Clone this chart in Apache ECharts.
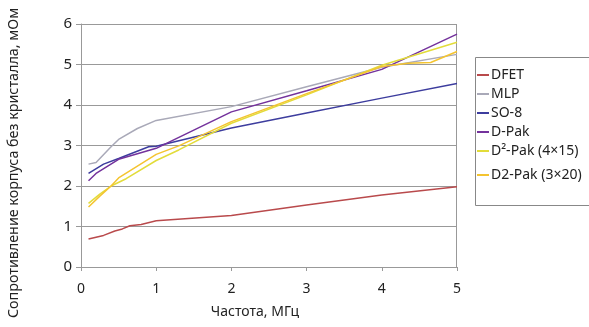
<!DOCTYPE html>
<html><head><meta charset="utf-8">
<script src="https://cdn.jsdelivr.net/npm/echarts@6/dist/echarts.min.js"></script>
<style>html,body{margin:0;padding:0;background:#fff}#c{width:589px;height:327px}</style>
</head><body><div id="c"></div>
<script>
var seriesNames = ['DFET', 'MLP', 'SO-8', 'D-Pak', 'D\u00B2-Pak (4\u00D715)', 'D2-Pak (3\u00D720)'];
var dfetF = [0.1, 0.3, 0.45, 0.55, 0.65, 0.8, 1.0, 2, 3, 4, 5];
var dfetV = [0.69, 0.78, 0.89, 0.94, 1.02, 1.05, 1.14, 1.27, 1.53, 1.78, 1.98];
var mlpF = [0.1, 0.2, 0.4, 0.5, 0.75, 1, 2, 3, 4, 5];
var mlpV = [2.54, 2.58, 2.97, 3.15, 3.42, 3.62, 3.96, 4.45, 4.93, 5.25];
var so8F = [0.1, 0.3, 0.5, 0.9, 1, 2, 3, 4, 5];
var so8V = [2.31, 2.54, 2.68, 2.97, 2.98, 3.43, 3.8, 4.17, 4.53];
var dpakF = [0.1, 0.2, 0.5, 1, 2, 3, 4, 5];
var dpakV = [2.13, 2.31, 2.66, 2.93, 3.83, 4.35, 4.88, 5.75];
var d2pak415F = [0.1, 0.25, 0.4, 0.6, 1, 1.3, 2, 3, 4, 5];
var d2pak415V = [1.57, 1.80, 2.0, 2.18, 2.63, 2.89, 3.55, 4.25, 4.98, 5.55];
var d2pak320F = [0.1, 0.25, 0.4, 0.5, 1, 1.3, 2, 3, 4, 4.35, 4.65, 5];
var d2pak320V = [1.48, 1.75, 2.0, 2.2, 2.78, 2.99, 3.59, 4.28, 4.95, 5.03, 5.05, 5.32];
var yTicks = [0, 1, 2, 3, 4, 5, 6];
var xTicks = [0, 1, 2, 3, 4, 5];
var colors = ['#b94a4c', '#a9a9b8', '#3d3d9e', '#74329c', '#e2dc3a', '#f4c430'];

function zip(f, v) { return f.map(function (x, i) { return [x, v[i]]; }); }
var dataSets = [zip(dfetF, dfetV), zip(mlpF, mlpV), zip(so8F, so8V), zip(dpakF, dpakV), zip(d2pak415F, d2pak415V), zip(d2pak320F, d2pak320V)];

var font = 'Noto Sans';
var chart = echarts.init(document.getElementById('c'), null, { renderer: 'canvas' });
var legendCommon = {
  orient: 'vertical', left: 477, itemWidth: 12, itemHeight: 2, icon: 'rect',
  itemGap: 5, textStyle: { fontFamily: font, fontSize: 14, color: '#222', padding: [0, 0, 0, -3] },
  padding: 0, selectedMode: false
};
chart.setOption({
  animation: false,
  color: colors,
  grid: { left: 81, right: 132, top: 24, bottom: 60, show: false },
  xAxis: {
    type: 'value', min: 0, max: 5, interval: 1,
    axisLine: { show: true, lineStyle: { color: '#999', width: 1 } },
    axisTick: { show: true, length: 4, lineStyle: { color: '#999' } },
    axisLabel: { fontFamily: font, fontSize: 14, color: '#222', margin: 15,
      formatter: function (v) { return xTicks.indexOf(v) >= 0 ? String(v) : ''; } },
    splitLine: { show: false }
  },
  yAxis: {
    type: 'value', min: 0, max: 6, interval: 1,
    axisLine: { show: true, lineStyle: { color: '#999', width: 1 } },
    axisTick: { show: true, length: 5, lineStyle: { color: '#999' } },
    axisLabel: { fontFamily: font, fontSize: 15, color: '#222', margin: 9,
      formatter: function (v) { return yTicks.indexOf(v) >= 0 ? String(v) : ''; } },
    splitLine: { show: true, lineStyle: { color: '#999', width: 1 } }
  },
  legend: [
    Object.assign({}, legendCommon, { top: 68, data: seriesNames.slice(0, 5) }),
    Object.assign({}, legendCommon, { top: 168, data: seriesNames.slice(5) })
  ],
  graphic: [
    { type: 'rect', shape: { x: 475.5, y: 57.5, width: 120, height: 148 }, style: { fill: 'none', stroke: '#888', lineWidth: 1 }, z: 0 },
    { type: 'line', shape: { x1: 456.5, y1: 24, x2: 456.5, y2: 267 }, style: { stroke: '#999', lineWidth: 1 }, z: 0 },
    { type: 'text', x: 255, y: 312, style: { text: 'Частота, МГц', font: '14px "Noto Sans"', fill: '#222', textAlign: 'center', textVerticalAlign: 'middle' } },
    { type: 'text', x: 14, y: 163, rotation: Math.PI / 2, style: { text: 'Сопротивление корпуса без кристалла, мОм', font: '14.3px "Noto Sans"', fill: '#222', textAlign: 'center', textVerticalAlign: 'middle' } }
  ],
  series: dataSets.map(function (d, i) {
    return { name: seriesNames[i], type: 'line', data: d, showSymbol: false, symbol: 'none',
      lineStyle: { width: 1.5, color: colors[i] }, itemStyle: { color: colors[i] }, z: 2 + i };
  })
});
</script></body></html>
